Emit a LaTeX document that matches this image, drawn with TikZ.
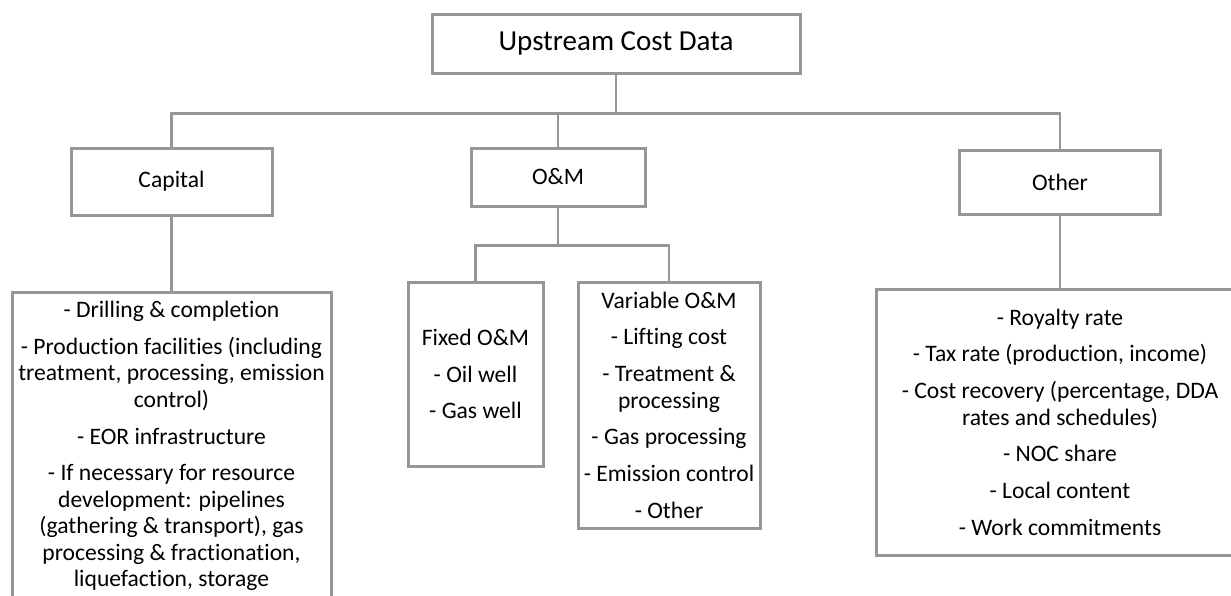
\documentclass[tikz,border=0pt]{standalone}
\usepackage{fontspec}
\setmainfont{Carlito}[Ligatures=NoCommon]
\usepackage{tikz}
\usetikzlibrary{positioning}
\definecolor{boxgray}{RGB}{150,150,150}
\tikzset{
  headnode/.style={draw=boxgray, line width=1.5pt, minimum width=184pt, minimum height=29.5pt, inner sep=0pt, font=\fontsize{14.5}{17}\selectfont},
  catnode/.style={draw=boxgray, line width=1.5pt, inner sep=0pt, font=\fontsize{11.8}{13.25}\selectfont},
  listnode/.style={draw=boxgray, line width=1.5pt, inner sep=0pt, align=center, font=\fontsize{11.8}{13.25}\selectfont},
  link/.style={draw=boxgray, line width=1.2pt}
}

\begin{document}
\begin{tikzpicture}[x=0.5pt, y=-0.5pt]
  \useasboundingbox (0,0) rectangle (1231,595);
  \node[headnode] (root) at (616,43.5) {Upstream Cost Data};
  % categories
  \node[catnode, minimum width=100.5pt, minimum height=33.5pt] (capital) at (171.5,181.5) {Capital};
  \node[catnode, minimum width=87pt, minimum height=29pt] (om) at (558,177) {O\&M};
  \node[catnode, minimum width=100.5pt, minimum height=32pt] (other) at (1060,182) {Other};
  % lists
  \node[listnode, minimum width=159.5pt, minimum height=154pt] (capdetail) at (171.5,446) {%
    - Drilling \& completion\\[5.1pt]
    - Production facilities (including\\
    treatment, processing, emission\\
    control)\\[5.1pt]
    - EOR infrastructure\\[5.1pt]
    - If necessary for resource\\
    development: pipelines\\
    (gathering \& transport), gas\\
    processing \& fractionation,\\
    liquefaction, storage};
  \node[listnode, minimum width=67.5pt, minimum height=92pt] (fixedom) at (475.5,374) {%
    Fixed O\&M\\[5.1pt]
    - Oil well\\[5.1pt]
    - Gas well};
  \node[listnode, minimum width=91pt, minimum height=123pt] (varom) at (669,405) {%
    Variable O\&M\\[5.1pt]
    - Lifting cost\\[5.1pt]
    - Treatment \&\\
    processing\\[5.1pt]
    - Gas processing\\[5.1pt]
    - Emission control\\[5.1pt]
    - Other};
  \node[listnode, minimum width=184pt, minimum height=133pt] (otherdetail) at (1060,422) {%
    - Royalty rate\\[5.1pt]
    - Tax rate (production, income)\\[5.1pt]
    - Cost recovery (percentage, DDA\\
    rates and schedules)\\[5.1pt]
    - NOC share\\[5.1pt]
    - Local content\\[5.1pt]
    - Work commitments};
  % connectors
  \draw[link] (root.south) -- ++(0,39) -| (capital.north);
  \draw[link] (root.south) -- ++(0,39) -| (om.north);
  \draw[link] (root.south) -- ++(0,39) -| (other.north);
  \draw[link] (capital.south) -- (capdetail.north);
  \draw[link] (om.south) -- ++(0,38) -| (fixedom.north);
  \draw[link] (om.south) -- ++(0,38) -| (varom.north);
  \draw[link] (other.south) -- (otherdetail.north);
\end{tikzpicture}
\end{document}
